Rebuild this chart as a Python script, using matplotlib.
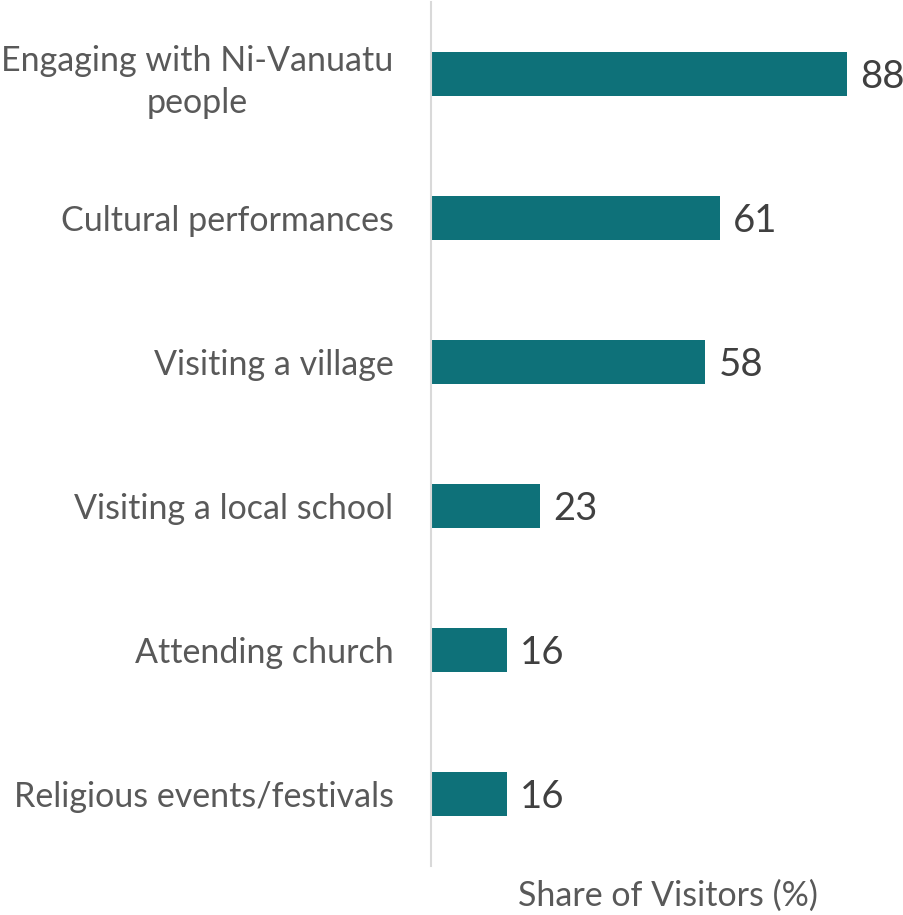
import matplotlib
matplotlib.use("Agg")
from matplotlib import pyplot as plt

categories = ["Engaging with Ni-Vanuatu\npeople", "Cultural performances", "Visiting a village",
              "Visiting a local school", "Attending church", "Religious events/festivals"]
shares = [88, 61, 58, 23, 16, 16]

bar_color = "#0E7179"
text_color = "#595959"

plt.rcParams['font.family'] = ['Lato', 'DejaVu Sans']

fig = plt.figure(figsize=(9.04, 9.15), dpi=100)
ax = fig.add_axes([0.4768, 0.0536, 0.5232, 0.9442])

pos = list(range(len(categories)))
ax.barh(pos, shares, height=0.306, color=bar_color)
for y, v in zip(pos, shares):
    ax.text(v + 2.8, y + 0.02, str(v), va='center', ha='left', fontsize=27.5, color="#404040")

ax.set_ylim(len(categories) - 0.5, -0.5)
ax.set_xlim(0, 100)
ax.set_yticks(pos)
ax.set_yticklabels(categories, fontsize=24.5, color=text_color, multialignment='center',
                   linespacing=1.4)
ax.tick_params(axis='y', length=0, pad=27)
ax.set_xticks([])

for side in ['top', 'right', 'bottom']:
    ax.spines[side].set_visible(False)
ax.spines['left'].set_color("#D9D9D9")
ax.spines['left'].set_linewidth(1.5)

ax.set_xlabel("Share of Visitors (%)", fontsize=24.5, color=text_color, labelpad=10)

fig.savefig("out.png", dpi=100)
